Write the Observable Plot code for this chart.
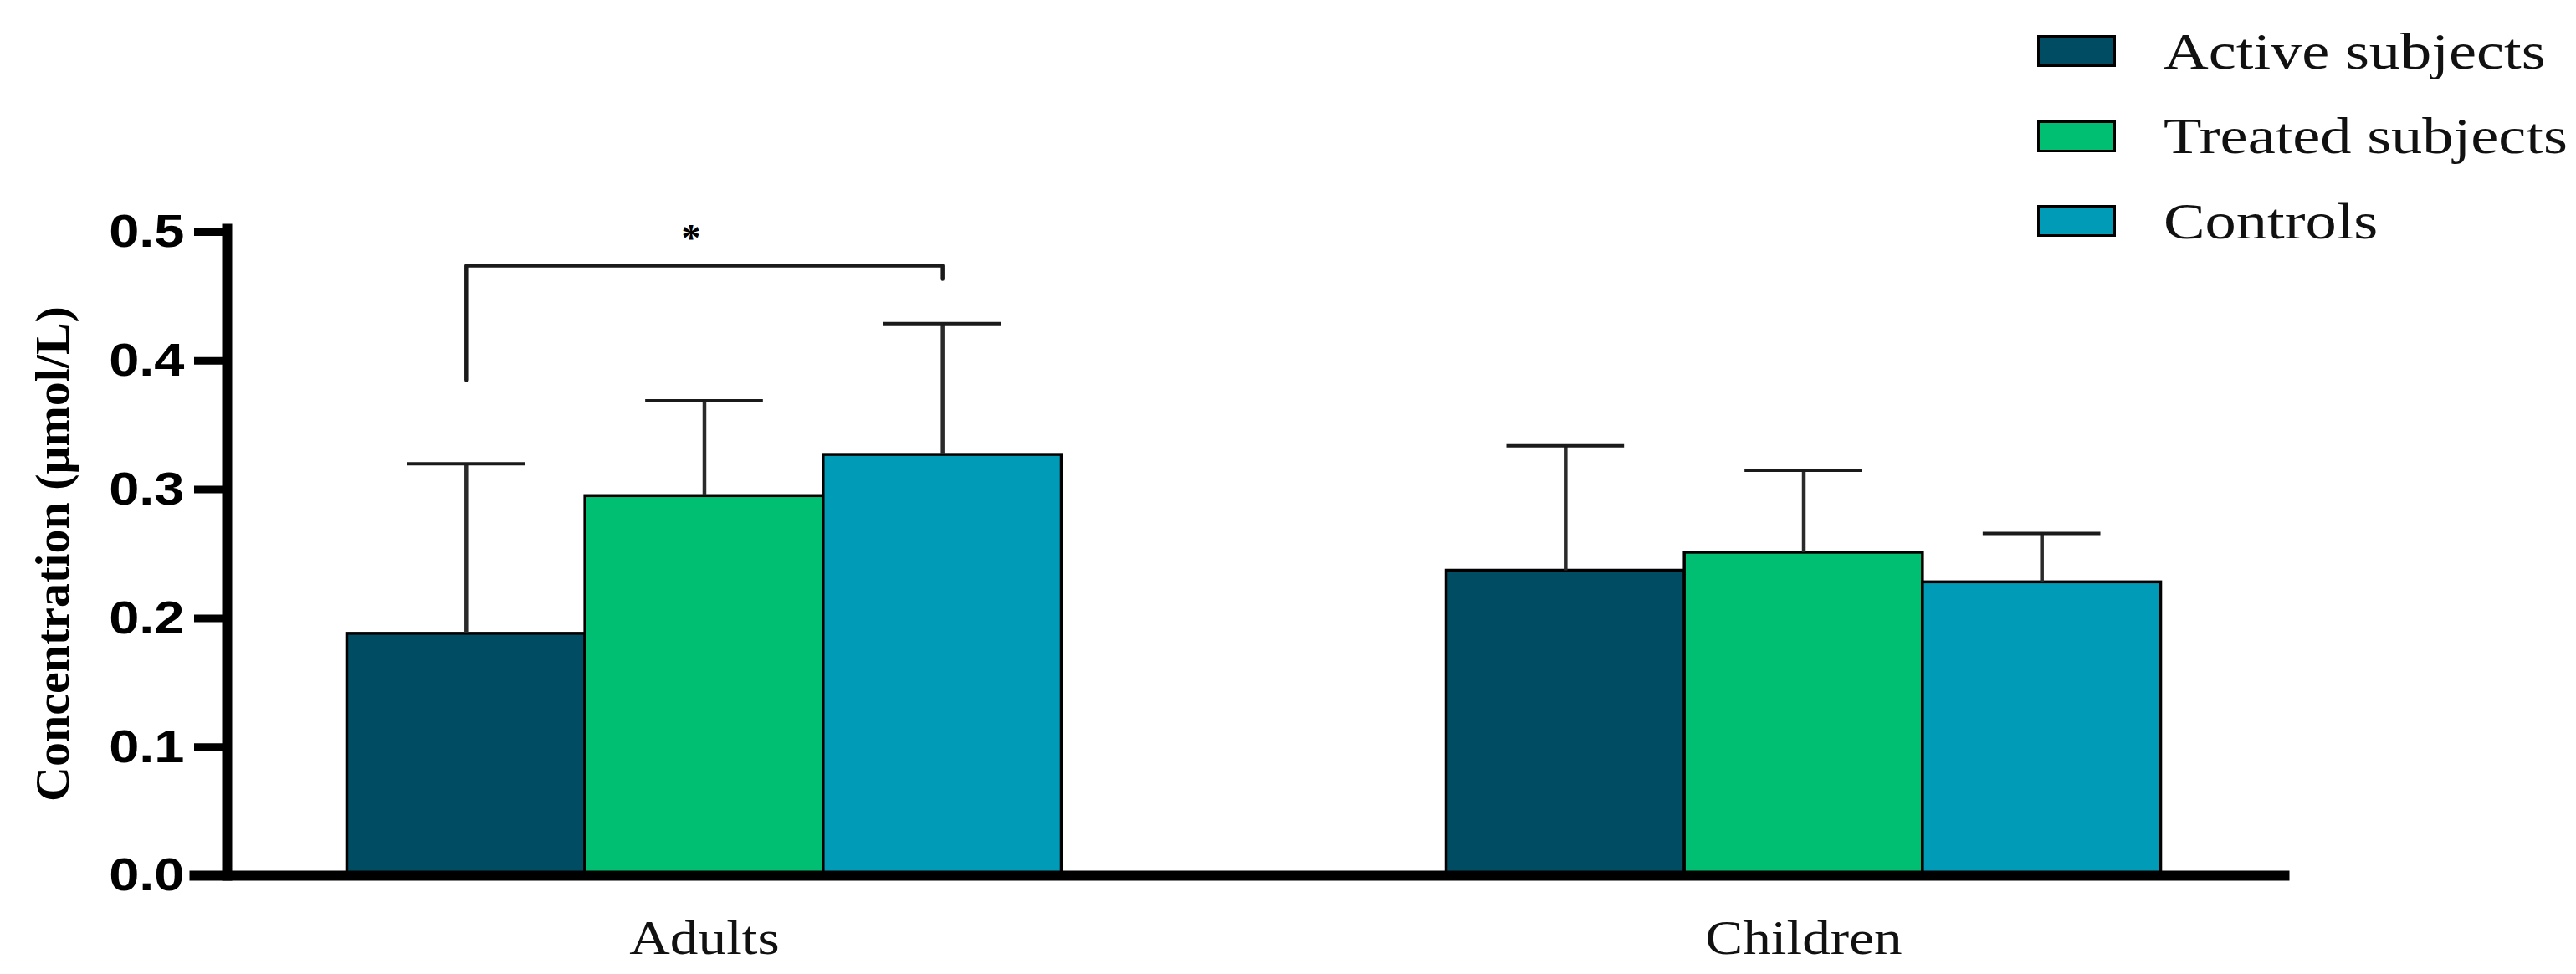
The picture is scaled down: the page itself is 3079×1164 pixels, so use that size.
<!DOCTYPE html>
<html><head><meta charset="utf-8">
<script src="https://cdn.jsdelivr.net/npm/d3@7"></script>
<script src="https://cdn.jsdelivr.net/npm/@observablehq/plot@0.6"></script>
<style>
html,body{margin:0;padding:0;background:#fff;}
#wrap{position:relative;width:3079px;height:1164px;overflow:hidden;}
#chart{position:absolute;left:0;top:0;}
#legend{position:absolute;left:2435px;top:42px;font-family:"Liberation Serif","Times New Roman",serif;font-size:62px;color:#111;}
.item{display:flex;align-items:center;height:38px;margin-bottom:63.5px;}
.sw{width:94px;height:38px;box-sizing:border-box;border:3px solid #000;flex:none;}
.lab{margin-left:57px;transform:scaleX(1.2);transform-origin:left center;white-space:nowrap;}
</style></head><body>
<div id="wrap"><div id="chart"></div><div id="legend"></div></div>
<script>
const groups = ["Adults", "Children"];
const series = ["Active subjects", "Treated subjects", "Controls"];
const colors = ["#004c63", "#00bf72", "#009bb6"];
const adultsMean = [0.188, 0.295, 0.327];
const adultsSD = [0.132, 0.074, 0.102];
const childrenMean = [0.237, 0.251, 0.228];
const childrenSD = [0.097, 0.064, 0.038];
const yTicks = [0, 0.1, 0.2, 0.3, 0.4, 0.5];
const yLabel = "Concentration (μmol/L)";
const bracketSeries = ["Active subjects", "Active subjects", "Controls", "Controls"];
const bracketY = [0.385, 0.474, 0.474, 0.4636];
const starText = "*";
const starY = 0.495;

const rows = [];
groups.forEach((g, gi) => series.forEach((s, si) => {
  const m = (gi === 0 ? adultsMean : childrenMean)[si];
  const sd = (gi === 0 ? adultsSD : childrenSD)[si];
  rows.push({group: g, series: s, mean: m, upper: m + sd});
}));
const bracket = bracketSeries.map((s, i) => ({group: "Adults", series: s, y: bracketY[i]}));
const star = [{group: "Adults", series: "Treated subjects", y: starY, text: starText}];

const plot = Plot.plot({
  width: 3079, height: 1164,
  marginLeft: 271, marginRight: 353, marginTop: 277, marginBottom: 118,
  style: {background: "transparent", overflow: "visible"},
  fx: {domain: groups, paddingInner: 0.1317, paddingOuter: 0, round: false, label: null},
  x: {domain: series, paddingInner: 0, paddingOuter: 0.504, round: false, axis: null},
  y: {domain: [0, 0.5], label: null},
  color: {domain: series, range: colors},
  marks: [
    Plot.barY(rows, {fx: "group", x: "series", y: "mean", fill: "series", stroke: "#000", strokeWidth: 3.5}),
    Plot.ruleX(rows, {fx: "group", x: "series", y1: "mean", y2: "upper", stroke: "#2a2a2a", strokeWidth: 4.5}),
    Plot.tickY(rows, {fx: "group", x: "series", y: "upper", stroke: "#1a1a1a", strokeWidth: 4, insetLeft: 72, insetRight: 72}),
    Plot.line(bracket, {fx: "group", x: "series", y: "y", stroke: "#1a1a1a", strokeWidth: 4.5}),
    Plot.text(star, {fx: "group", x: "series", y: "y", text: "text", dx: -16, fontSize: 46, fontWeight: "bold", fontFamily: "Liberation Serif, serif", fill: "#000"}),
    Plot.frame({anchor: "left", facet: "super", stroke: "#000", strokeWidth: 12, insetTop: -4}),
    Plot.frame({anchor: "bottom", facet: "super", stroke: "#000", strokeWidth: 12, insetLeft: -39, insetRight: -4}),
    Plot.axisY({ticks: yTicks, tickFormat: d3.format(".1f"), tickSize: 39, tickPadding: 12, stroke: "#000", strokeWidth: 9, fill: "#000", fontSize: 56, fontWeight: "bold", fontFamily: "Liberation Sans, Arial, sans-serif", label: null}),
    Plot.axisY({ticks: [], tickSize: 0, label: yLabel, labelAnchor: "center", labelArrow: "none", labelOffset: 231, fontSize: 58, fontWeight: "bold", fontFamily: "Liberation Serif, serif", fill: "#000"}),
    Plot.axisFx({anchor: "bottom", tickSize: 0, tickPadding: 53, fontSize: 57, fontFamily: "Liberation Serif, serif", fill: "#111", label: null})
  ]
});
document.getElementById("chart").append(plot);

function stretch(sel, k) {
  plot.querySelectorAll(sel).forEach(t => {
    const w = t.getComputedTextLength();
    t.setAttribute("textLength", (w * k).toFixed(1));
    t.setAttribute("lengthAdjust", "spacingAndGlyphs");
  });
}
stretch('g[aria-label="y-axis tick label"] text', 1.16);
stretch('g[aria-label="fx-axis tick label"] text', 1.18);

const legend = document.getElementById("legend");
series.forEach((s, i) => {
  const item = document.createElement("div");
  item.className = "item";
  const sw = document.createElement("div");
  sw.className = "sw";
  sw.style.background = colors[i];
  const lab = document.createElement("span");
  lab.className = "lab";
  lab.textContent = s;
  item.append(sw, lab);
  legend.append(item);
});
</script>
</body></html>
